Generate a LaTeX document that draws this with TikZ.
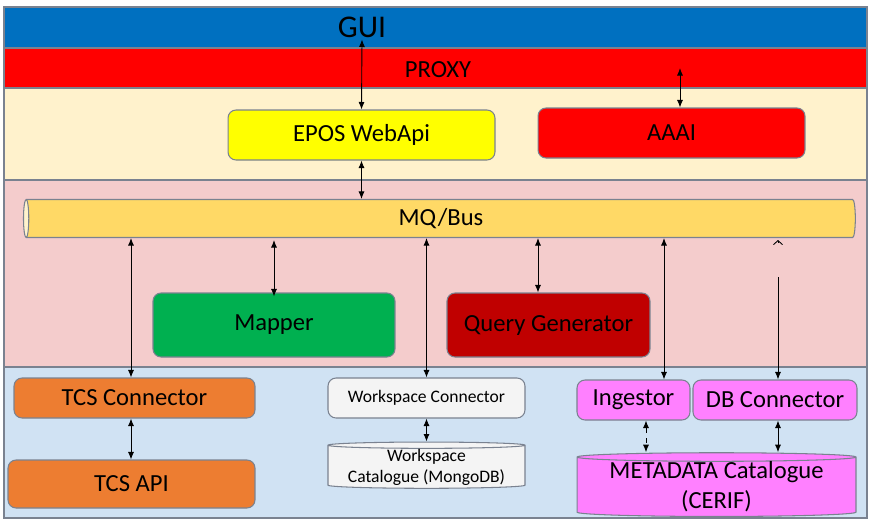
\documentclass[tikz,border=0pt]{standalone}
\usepackage{fontspec}
\setmainfont{Carlito}
\usetikzlibrary{arrows.meta,shapes.geometric}
\definecolor{guiblue}{HTML}{0070C0}
\definecolor{proxyred}{HTML}{FF0000}
\definecolor{webcream}{HTML}{FFF2CC}
\definecolor{corepink}{HTML}{F4CCCC}
\definecolor{storeblue}{HTML}{D0E2F3}
\definecolor{apiyellow}{HTML}{FFFF00}
\definecolor{busyellow}{HTML}{FFD966}
\definecolor{mapgreen}{HTML}{00B050}
\definecolor{qgenred}{HTML}{C00000}
\definecolor{tcsorange}{HTML}{ED7D31}
\definecolor{wswhite}{HTML}{F4F4F4}
\definecolor{metapink}{HTML}{FF80FF}
\definecolor{edgegray}{HTML}{7A8290}

\begin{document}
\begin{tikzpicture}[x=0.02cm,y=-0.02cm,
  band/.style={draw=edgegray, line width=0.6pt},
  box/.style={draw=edgegray, line width=0.6pt, rounded corners=0.16cm,
              inner sep=0pt, font=\fontsize{14}{16}\selectfont},
  store/.style={cylinder, shape border rotate=90, aspect=0.04, draw=edgegray,
                line width=0.6pt, inner sep=0pt, align=center},
  link/.style={{Latex[length=1.5mm,width=1.2mm]}-{Latex[length=1.5mm,width=1.2mm]},
               line width=0.5pt}]
\useasboundingbox (0,0) rectangle (870,522);

%---------------- layers -----------------
\fill[white] (0,0) rectangle (870,522);
\filldraw[band, fill=guiblue]   (4,7)   rectangle (867,48);
\filldraw[band, fill=proxyred]  (4,48)  rectangle (867,88);
\filldraw[band, fill=webcream]  (4,88)  rectangle (867,180);
\filldraw[band, fill=corepink]  (4,180) rectangle (867,367);
\filldraw[band, fill=storeblue] (4,367) rectangle (867,518);

\node[font=\fontsize{18}{20}\selectfont, inner sep=1pt] (gui) at (362,27) {GUI};
\node[font=\fontsize{14}{16}\selectfont] (proxy) at (438,70) {PROXY};

%---------------- web tier -----------------
\node[box, fill=apiyellow, minimum width=5.34cm, minimum height=1.0cm] (webapi) at (361.5,135) {EPOS WebApi};
\node[box, fill=proxyred, minimum width=5.34cm, minimum height=1.0cm] (aaai) at (671.5,133) {AAAI};

%---------------- core services -----------------
\node[cylinder, shape border rotate=180, aspect=0.26, draw=edgegray, line width=0.6pt,
      cylinder uses custom fill, cylinder body fill=busyellow, cylinder end fill=webcream,
      minimum width=0.76cm, minimum height=16.64cm, inner sep=0pt,
      font=\fontsize{14}{16}\selectfont] (bus) at (441,218.5) {MQ/Bus};
\node[box, fill=mapgreen, minimum width=4.84cm, minimum height=1.28cm] (mapper) at (274,325) {Mapper};
\node[box, fill=qgenred, minimum width=4.06cm, minimum height=1.28cm] (qgen) at (548.5,325) {Query Generator};

%---------------- connectors and catalogues -----------------
\node[box, fill=tcsorange, minimum width=4.82cm, minimum height=0.8cm] (tcscon) at (134.5,398) {TCS Connector};
\node[box, fill=tcsorange, minimum width=4.94cm, minimum height=0.96cm] (tcsapi) at (131.5,484) {TCS API};
\node[box, fill=wswhite, minimum width=3.94cm, minimum height=0.8cm,
      font=\fontsize{10}{12}\selectfont] (wscon) at (426.5,398) {Workspace Connector};
\node[store, fill=wswhite, minimum width=3.94cm, minimum height=0.88cm,
      font=\fontsize{10}{12}\selectfont] (wscat) at (426.5,467) {Workspace\\Catalogue (MongoDB)};
\node[box, fill=metapink, minimum width=2.26cm, minimum height=0.8cm] (ingestor) at (633.5,400) {Ingestor};
\node[box, fill=metapink, minimum width=3.28cm, minimum height=0.8cm] (dbcon) at (775,400) {DB Connector};
\node[store, fill=metapink, minimum width=5.58cm, minimum height=1.24cm,
      font=\fontsize{14}{17}\selectfont] (metacat) at (716.5,487) {METADATA Catalogue\\(CERIF)};

%---------------- links -----------------
\coordinate (aaaitop) at (680,68);
\coordinate (tcsx) at (131,0);
\coordinate (qx) at (538,0);
\coordinate (ingx) at (664,0);
\coordinate (dbx) at (778,0);
\coordinate (dbgap) at (778,277);
\coordinate (dbtip) at (778,243);
\coordinate (metax) at (646,0);

\draw[link] (gui.south) -- (webapi.north);
\draw[link] (aaai.north -| aaaitop) -- (aaaitop);
\draw[link] (webapi.south) -- (webapi.south |- bus.north);
\draw[link] (bus.south -| tcsx) -- (tcscon.north -| tcsx);
\draw[link] (bus.south -| mapper.north) ++(0,2) -- ([yshift=-0.08cm]mapper.north);
\draw[link] (bus.south -| wscon.north) -- (wscon.north);
\draw[link] (bus.south -| qx) -- (qgen.north -| qx);
\draw[link] (bus.south -| ingx) -- (ingestor.north -| ingx);
\draw[-{Latex[length=1.5mm,width=1.2mm]}, line width=0.5pt] (dbgap) -- (dbcon.north -| dbgap);
\draw[-{Straight Barb[length=0.8mm,width=1.8mm]}, line width=0.5pt] (dbtip) -- ++(0,-3);
\draw[link] (tcscon.south -| tcsx) -- (tcsapi.north -| tcsx);
\draw[link] (wscon.south) -- (wscat.north);
\draw[link, dashed] (ingestor.south -| metax) -- (metacat.north -| metax);
\draw[link] (dbcon.south -| dbx) -- (metacat.north -| dbx);

\end{tikzpicture}
\end{document}
